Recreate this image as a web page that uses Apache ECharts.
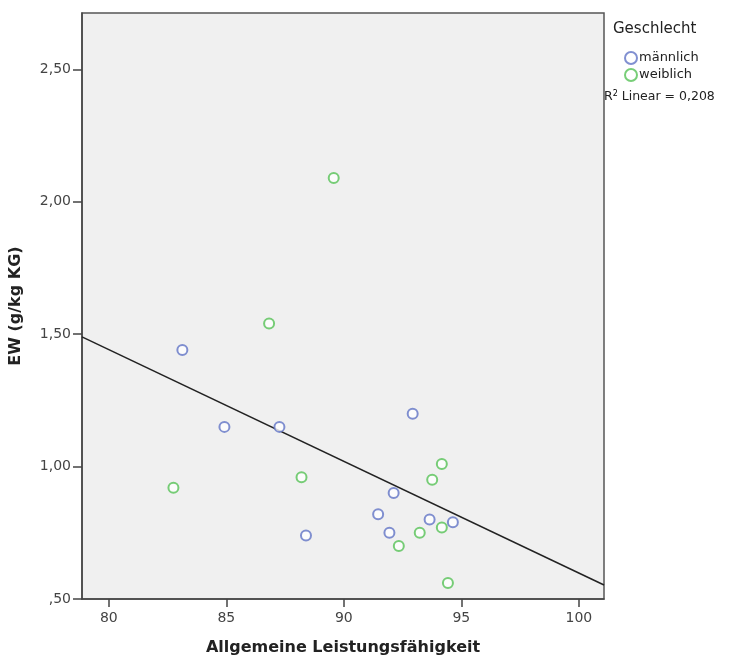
<!DOCTYPE html>
<html>
<head>
<meta charset="utf-8">
<script src="https://cdn.jsdelivr.net/npm/echarts@6/dist/echarts.min.js"></script>
<style>
html,body{margin:0;padding:0;background:#fff;}
#chart{width:731px;height:661px;}
</style>
</head>
<body>
<div id="chart"></div>
<script>
// Data
var maleX   = [83.13, 84.92, 87.26, 92.93, 92.12, 91.46, 93.65, 94.64, 91.94, 88.39];
var maleY   = [1.44, 1.15, 1.15, 1.20, 0.90, 0.82, 0.80, 0.79, 0.75, 0.74];
var femaleX = [89.57, 86.82, 82.75, 88.20, 94.17, 93.76, 94.17, 93.23, 92.34, 94.43];
var femaleY = [2.09, 1.54, 0.92, 0.96, 1.01, 0.95, 0.77, 0.75, 0.70, 0.56];
var fitX = [78.86, 101.07];
var fitY = [1.490, 0.553];
var xTicks = [80, 85, 90, 95, 100];
var yTicks = [0.5, 1.0, 1.5, 2.0, 2.5];
var seriesNames = ['männlich', 'weiblich'];
var r2Text = '0,208';

function pairs(xs, ys){ return xs.map(function(x,i){ return [x, ys[i]]; }); }
function fmtY(v){ var s = v.toFixed(2).replace('.', ','); return s.charAt(0) === '0' ? s.slice(1) : s; }

var FONT = 'DejaVu Sans';
var chart = echarts.init(document.getElementById('chart'), null, {renderer:'canvas'});
chart.setOption({
  animation:false,
  backgroundColor:'#ffffff',
  textStyle:{fontFamily:FONT},
  grid:{left:82, top:13, right:127, bottom:59, show:true, backgroundColor:'#f0f0f0', borderColor:'#555', borderWidth:1.5},
  xAxis:{
    type:'value', min:78.86, max:101.07,
    axisLine:{show:true, onZero:false, lineStyle:{color:'#444', width:1.5}},
    axisTick:{show:true, inside:false, length:8, lineStyle:{color:'#444', width:1.5},
      customValues: xTicks},
    axisLabel:{color:'#444', fontSize:14, margin:12, customValues: xTicks,
      formatter:function(v){return String(v);}},
    splitLine:{show:false},
    name:'Allgemeine Leistungsfähigkeit', nameLocation:'middle', nameGap:41,
    nameTextStyle:{fontSize:16, fontWeight:'bold', color:'#222', fontFamily:FONT}
  },
  yAxis:{
    type:'value', min:0.5, max:2.713,
    axisLine:{show:true, onZero:false, lineStyle:{color:'#444', width:1.5}},
    axisTick:{show:true, inside:false, length:9, lineStyle:{color:'#444', width:1.5}, customValues: yTicks},
    axisLabel:{color:'#444', fontSize:14, margin:11, customValues: yTicks, formatter:fmtY},
    splitLine:{show:false},
    name:'EW (g/kg KG)', nameLocation:'middle', nameGap:58, nameRotate:90,
    nameTextStyle:{fontSize:16, fontWeight:'bold', color:'#222', fontFamily:FONT}
  },
  legend:{
    show:true, orient:'vertical', left:619, top:46, itemGap:3,
    itemWidth:12, itemHeight:12,
    data:[{name:seriesNames[0], icon:'emptyCircle'},{name:seriesNames[1], icon:'emptyCircle'}],
    textStyle:{fontSize:13, color:'#222', fontFamily:FONT, padding:[0,0,0,-3]}
  },
  graphic:[
    {type:'text', left:613, top:22, style:{text:'Geschlecht', font:'15px "DejaVu Sans"', fill:'#222'}},
    {type:'text', left:604, top:90, style:{
      text:'{a|R}{s|2}{a| Linear = '+r2Text+'}',
      rich:{a:{fontSize:12.5, fontFamily:FONT, fill:'#222', color:'#222'},
            s:{fontSize:8, fontFamily:FONT, color:'#222', verticalAlign:'top', padding:[0,0,6,0]}}
    }}
  ],
  series:[
    {name:seriesNames[0], type:'scatter', symbol:'emptyCircle', symbolSize:10,
      itemStyle:{color:'#6274c6', borderColor:'#6274c6', borderWidth:1.5},
      data:pairs(maleX, maleY), z:3},
    {name:seriesNames[1], type:'scatter', symbol:'emptyCircle', symbolSize:10,
      itemStyle:{color:'#56c256', borderColor:'#56c256', borderWidth:1.5},
      data:pairs(femaleX, femaleY), z:3},
    {name:'fit', type:'line', data:pairs(fitX, fitY), symbol:'none',
      lineStyle:{color:'#222', width:1.5}, silent:true, z:2}
  ]
});
</script>
</body>
</html>
